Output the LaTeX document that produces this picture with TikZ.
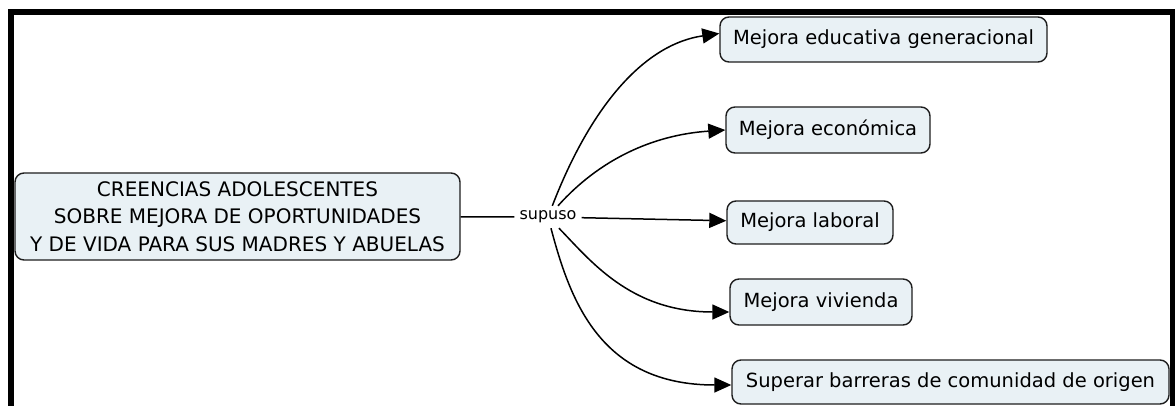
\documentclass[tikz,border=0pt]{standalone}
\usepackage{fontspec}
\setmainfont{DejaVu Sans}
\usetikzlibrary{arrows.meta}
\definecolor{conceptfill}{RGB}{233,241,245}
\definecolor{conceptline}{RGB}{30,30,30}
\begin{document}
\begin{tikzpicture}[x=1pt,y=-1pt,
  concept/.style={draw=conceptline, line width=1.4pt, fill=conceptfill,
    rounded corners=9pt, inner sep=0pt, align=center,
    font=\fontsize{19.5}{27}\selectfont},
  linkword/.style={inner sep=0pt, minimum width=67pt, minimum height=22pt,
    font=\fontsize{16}{19}\selectfont},
  link/.style={line width=1.5pt, black},
  arrowlink/.style={link, -{Triangle[length=17pt,width=15pt]}},
  frameband/.style={fill=black, draw=none}]
  \useasboundingbox (0,0) rectangle (1175,406);
  \fill[white] (0,0) rectangle (1175,406);

  % concepts
  \node[concept, minimum width=445pt, minimum height=87pt,
        font=\fontsize{20}{27.5}\selectfont] (main) at (237.5,216.5)
    {CREENCIAS ADOLESCENTES\\SOBRE MEJORA DE OPORTUNIDADES\\Y DE VIDA PARA SUS MADRES Y ABUELAS};
  \node[concept, minimum width=327pt, minimum height=45pt] (edu) at (883.5,39.5)
    {Mejora educativa generacional};
  \node[concept, minimum width=204pt, minimum height=46pt] (eco) at (828,130)
    {Mejora económica};
  \node[concept, minimum width=166pt, minimum height=43pt] (lab) at (810,222.5)
    {Mejora laboral};
  \node[concept, minimum width=182pt, minimum height=46pt] (viv) at (821,302)
    {Mejora vivienda};
  \node[concept, minimum width=437pt, minimum height=44pt] (sup) at (950.5,382)
    {Superar barreras de comunidad de origen};

  % linking phrase
  \node[linkword] (link) at (548,217) {supuso};

  % connectors
  \draw[link] (main) -- (link);
  \draw[arrowlink] (link) .. controls (592,103) and (646,44) .. ([yshift=6pt]edu.west);
  \draw[arrowlink] (link) .. controls (599,160) and (652,135) .. (eco.west);
  \draw[arrowlink] (link) -- (lab);
  \draw[arrowlink] (link) .. controls (590,260) and (630,312) .. ([yshift=-10pt]viv.west);
  \draw[arrowlink] (link) .. controls (570,300) and (600,385) .. ([yshift=-3pt]sup.west);

  % frame
  \fill[frameband] (8,9) rectangle (1175,15);
  \fill[frameband] (8,9) rectangle (14,406);
  \fill[frameband] (1170,9) rectangle (1175,406);
\end{tikzpicture}
\end{document}
